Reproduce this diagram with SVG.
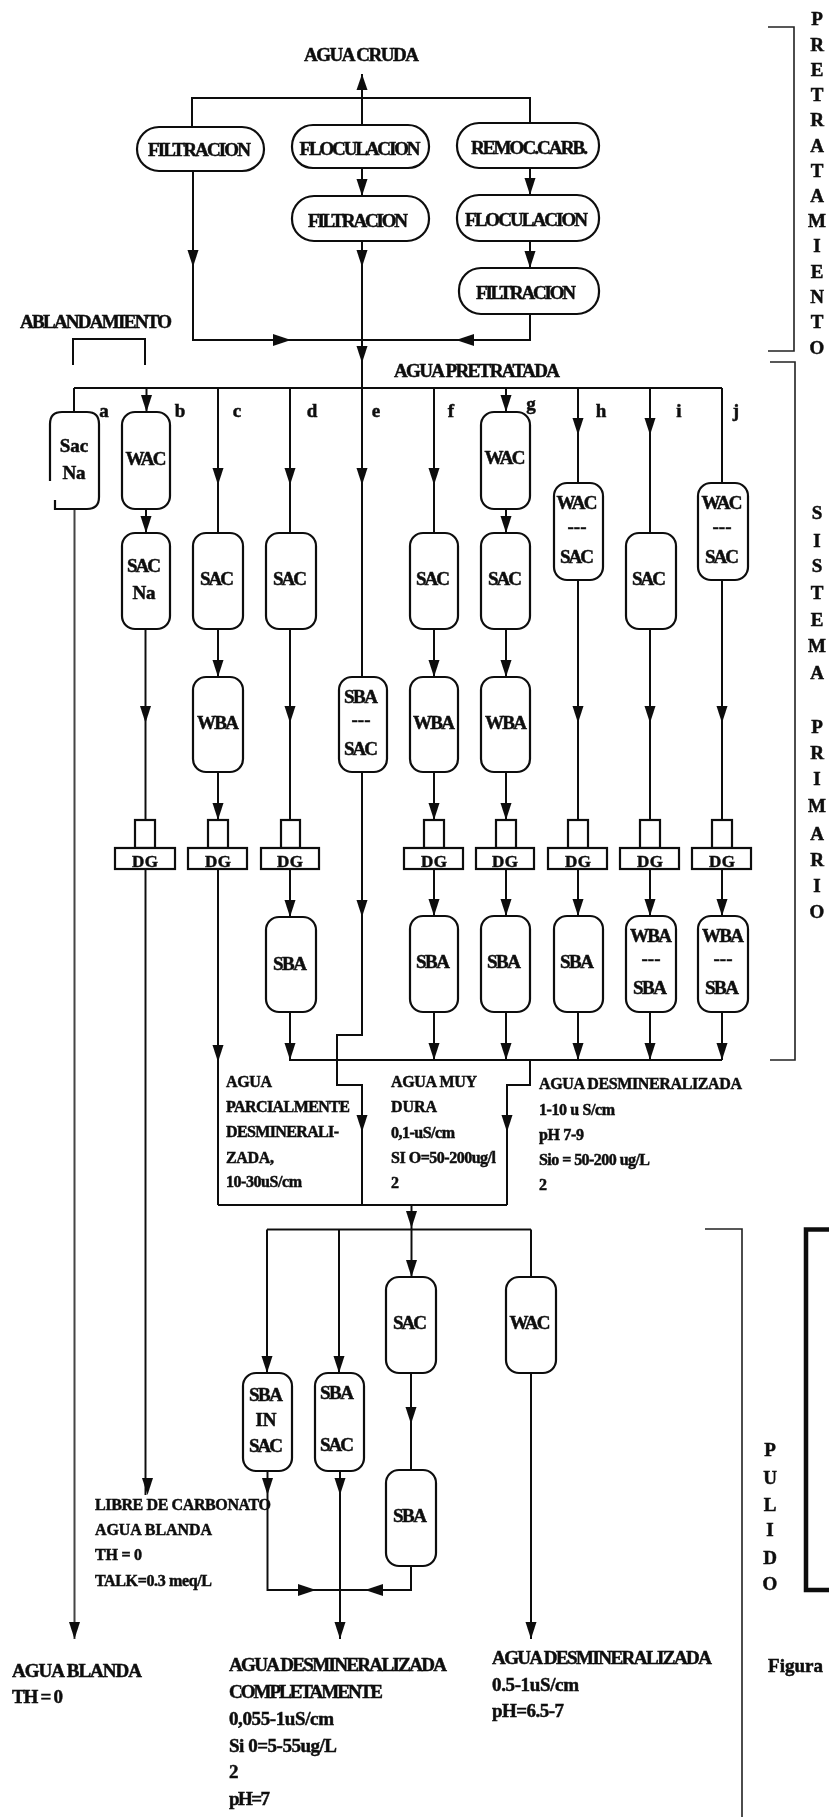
<svg xmlns="http://www.w3.org/2000/svg" width="829" height="1817" viewBox="0 0 829 1817">
<style>
text{font-family:"Liberation Serif","Times New Roman",serif;font-weight:bold;font-size:19px;fill:#111;stroke:#111;stroke-width:.5px}
.m{text-anchor:middle}
.s{font-size:16px}
.d{font-size:17px;text-anchor:middle}
.t{font-size:19px}
.l{font-size:19px;text-anchor:middle}
.n{fill:#fff;stroke:#111;stroke-width:2.2}
.w{fill:none;stroke:#111;stroke-width:2}
.g{fill:none;stroke:#444;stroke-width:2}
.b{fill:none;stroke:#222;stroke-width:1.6}
.k{fill:none;stroke:#111;stroke-width:4.5}
.a{fill:#111;stroke:none}
</style>
<defs>
<filter id="soft" x="0" y="0" width="100%" height="100%"><feGaussianBlur stdDeviation="0.55"/></filter>
<polygon id="ad" class="a" points="-5.500,-17 5.500,-17 0,0"/>
<polygon id="au" class="a" points="-5.500,16 5.500,16 0,0"/>
<polygon id="ar" class="a" points="-18,-6 0,0 -18,6"/>
<polygon id="al" class="a" points="18,-6 0,0 18,6"/>
</defs>
<rect width="829" height="1817" fill="#fff"/>
<g filter="url(#soft)">
<g id="connectors">
<path class="w" d="M362,74V125M192,127V98H530V123M362,168V196M530,168V195M530,241V268M193,171V340H530V314M362,241V388"/>
<path class="w" d="M73,365V339H145V365"/>
<path class="w" d="M74,388H722M74,388V412M146.500,388V412M218,388V533M290,388V533M362,388V677M434,388V533M506,388V412M578,388V483M650,388V533M722,388V483"/>
<path class="w" d="M146,509V533M506,509V533M218,629V677M434,629V677M506,629V677"/>
<path class="w" d="M145.500,629V820M145.500,869V1495M218,772V820M218,869V1205M290,629V820M290,869V917M434,772V820M434,869V916M506,772V820M506,869V916M578,580V820M578,869V916M650,629V820M650,869V916M722,580V820M722,869V916"/>
<path class="g" d="M74.500,509V1639"/>
<path class="w" d="M290,1012V1060H722M434,1012V1060M506,1012V1060M578,1012V1060M650,1012V1060M722,1012V1060"/>
<path class="w" d="M362,772V1035H337V1085H362V1205M530,1060V1085H507V1205M218,1205H507M411.500,1205V1277M267,1229.500H531M267,1229.500V1373M339,1229.500V1373M531,1229.500V1277M411,1373V1470M267.500,1471V1590H411V1566M340,1471V1639M531,1373V1639"/>
<use href="#au" x="362" y="74"/>
<use href="#ad" x="362" y="196"/><use href="#ad" x="530" y="195"/><use href="#ad" x="530" y="268"/>
<use href="#ad" x="193" y="267"/><use href="#ad" x="362" y="267"/><use href="#ad" x="362" y="363"/>
<use href="#ar" x="291" y="340"/><use href="#al" x="456" y="340"/>
<use href="#ad" x="146.500" y="412"/><use href="#ad" x="506" y="412"/>
<use href="#ad" x="146" y="533"/><use href="#ad" x="506" y="533"/>
<use href="#ad" x="218" y="485"/><use href="#ad" x="290" y="485"/><use href="#ad" x="362" y="485"/><use href="#ad" x="434" y="485"/>
<use href="#ad" x="578" y="435"/><use href="#ad" x="650" y="435"/>
<use href="#ad" x="218" y="677"/><use href="#ad" x="434" y="677"/><use href="#ad" x="506" y="677"/>
<use href="#ad" x="145.500" y="723"/><use href="#ad" x="290" y="723"/><use href="#ad" x="578" y="723"/><use href="#ad" x="650" y="723"/><use href="#ad" x="722" y="723"/>
<use href="#ad" x="218" y="820"/><use href="#ad" x="434" y="820"/><use href="#ad" x="506" y="820"/>
<use href="#ad" x="290" y="917"/><use href="#ad" x="362" y="917"/><use href="#ad" x="434" y="916"/><use href="#ad" x="506" y="916"/><use href="#ad" x="578" y="916"/><use href="#ad" x="650" y="916"/><use href="#ad" x="722" y="916"/>
<use href="#ad" x="218" y="1062"/>
<use href="#ad" x="290" y="1060"/><use href="#ad" x="434" y="1060"/><use href="#ad" x="506" y="1060"/><use href="#ad" x="578" y="1060"/><use href="#ad" x="650" y="1060"/><use href="#ad" x="722" y="1060"/>
<use href="#ad" x="362" y="1132"/><use href="#ad" x="507" y="1132"/>
<use href="#ad" x="411.500" y="1228"/><use href="#ad" x="411.500" y="1277"/>
<use href="#ad" x="267" y="1373"/><use href="#ad" x="339" y="1373"/>
<use href="#ad" x="411" y="1424"/>
<use href="#ad" x="267.500" y="1495"/><use href="#ad" x="340" y="1495"/><use href="#ad" x="147.500" y="1495"/>
<use href="#ar" x="316" y="1590"/><use href="#al" x="365" y="1590"/>
<use href="#ad" x="74.500" y="1639"/><use href="#ad" x="340" y="1639"/><use href="#ad" x="531" y="1639"/>
<path class="b" d="M768,27H794V351H768M770,362H795V1060H770M705,1229H742V1817"/>
<path class="k" d="M829,1229.500H806V1590H829"/>
</g>

<g id="n-filtracion1"><rect class="n" x="137" y="127" width="127" height="44" rx="22"/><text class="t m" x="199.500" y="156" textLength="103">FILTRACION</text></g>
<g id="n-floculacion1"><rect class="n" x="292" y="125" width="137" height="43" rx="21"/><text class="t m" x="360" y="155" textLength="121">FLOCULACION</text></g>
<g id="n-remoc"><rect class="n" x="457" y="123" width="142" height="45" rx="22"/><text class="t m" x="529.500" y="154" textLength="117">REMOC.CARB.</text></g>
<g id="n-filtracion2"><rect class="n" x="292" y="196" width="137" height="45" rx="22"/><text class="t m" x="358" y="227" textLength="100">FILTRACION</text></g>
<g id="n-floculacion2"><rect class="n" x="457" y="195" width="142" height="46" rx="22"/><text class="t m" x="526.500" y="226" textLength="123">FLOCULACION</text></g>
<g id="n-filtracion3"><rect class="n" x="459" y="268" width="140" height="46" rx="22"/><text class="t m" x="526" y="299" textLength="100">FILTRACION</text></g>

<g id="n-a"><path class="n" d="M50,481V424Q50,412 62,412H87Q99,412 99,424V497Q99,509 87,509H55V500"/><text class="l" x="74" y="452">Sac</text><text class="l" x="74" y="479">Na</text></g>
<g id="n-b1"><rect class="n" x="122" y="412" width="48" height="97" rx="13"/><text class="l" x="146" y="465" textLength="41">WAC</text></g>
<g id="n-b2"><rect class="n" x="122" y="533" width="48" height="96" rx="13"/><text class="l" x="144" y="572" textLength="34">SAC</text><text class="l" x="144" y="599">Na</text></g>
<g id="n-c1"><rect class="n" x="193" y="533" width="50" height="96" rx="13"/><text class="l" x="217" y="585" textLength="34">SAC</text></g>
<g id="n-c2"><rect class="n" x="193" y="677" width="50" height="95" rx="13"/><text class="l" x="218" y="729" textLength="42">WBA</text></g>
<g id="n-d1"><rect class="n" x="266" y="533" width="50" height="96" rx="13"/><text class="l" x="290" y="585" textLength="34">SAC</text></g>
<g id="n-d2"><rect class="n" x="266" y="917" width="50" height="95" rx="13"/><text class="l" x="290" y="970" textLength="34">SBA</text></g>
<g id="n-e"><rect class="n" x="339" y="677" width="48" height="95" rx="13"/><text class="l" x="361" y="703" textLength="34">SBA</text><text class="l" x="361" y="726">---</text><text class="l" x="361" y="755" textLength="34">SAC</text></g>
<g id="n-f1"><rect class="n" x="410" y="533" width="48" height="96" rx="13"/><text class="l" x="433" y="585" textLength="34">SAC</text></g>
<g id="n-f2"><rect class="n" x="410" y="677" width="48" height="95" rx="13"/><text class="l" x="434" y="729" textLength="42">WBA</text></g>
<g id="n-f3"><rect class="n" x="410" y="916" width="48" height="96" rx="13"/><text class="l" x="433" y="968" textLength="34">SBA</text></g>
<g id="n-g1"><rect class="n" x="481" y="412" width="49" height="97" rx="13"/><text class="l" x="505" y="464" textLength="41">WAC</text></g>
<g id="n-g2"><rect class="n" x="481" y="533" width="49" height="96" rx="13"/><text class="l" x="505" y="585" textLength="34">SAC</text></g>
<g id="n-g3"><rect class="n" x="481" y="677" width="49" height="95" rx="13"/><text class="l" x="506" y="729" textLength="42">WBA</text></g>
<g id="n-g4"><rect class="n" x="481" y="916" width="49" height="96" rx="13"/><text class="l" x="504" y="968" textLength="34">SBA</text></g>
<g id="n-h1"><rect class="n" x="554" y="483" width="49" height="97" rx="13"/><text class="l" x="577" y="509" textLength="41">WAC</text><text class="l" x="577" y="533">---</text><text class="l" x="577" y="563" textLength="34">SAC</text></g>
<g id="n-h2"><rect class="n" x="554" y="916" width="49" height="96" rx="13"/><text class="l" x="577" y="968" textLength="34">SBA</text></g>
<g id="n-i1"><rect class="n" x="626" y="533" width="50" height="96" rx="13"/><text class="l" x="649" y="585" textLength="34">SAC</text></g>
<g id="n-i2"><rect class="n" x="626" y="916" width="50" height="96" rx="13"/><text class="l" x="651" y="942" textLength="42">WBA</text><text class="l" x="651" y="965">---</text><text class="l" x="650" y="994" textLength="34">SBA</text></g>
<g id="n-j1"><rect class="n" x="698" y="483" width="50" height="97" rx="13"/><text class="l" x="722" y="509" textLength="41">WAC</text><text class="l" x="722" y="533">---</text><text class="l" x="722" y="563" textLength="34">SAC</text></g>
<g id="n-j2"><rect class="n" x="698" y="916" width="50" height="96" rx="13"/><text class="l" x="723" y="942" textLength="42">WBA</text><text class="l" x="723" y="965">---</text><text class="l" x="722" y="994" textLength="34">SBA</text></g>

<g id="dg-b"><rect class="n" x="135" y="820" width="20" height="28"/><rect class="n" x="115" y="848" width="60" height="21"/><text class="d" x="145" y="867" textLength="26">DG</text></g>
<g id="dg-c"><rect class="n" x="208" y="820" width="20" height="28"/><rect class="n" x="188" y="848" width="59" height="21"/><text class="d" x="218" y="867" textLength="26">DG</text></g>
<g id="dg-d"><rect class="n" x="281" y="820" width="19" height="28"/><rect class="n" x="261" y="848" width="58" height="21"/><text class="d" x="290" y="867" textLength="26">DG</text></g>
<g id="dg-f"><rect class="n" x="424" y="820" width="20" height="28"/><rect class="n" x="404" y="848" width="59" height="21"/><text class="d" x="434" y="867" textLength="26">DG</text></g>
<g id="dg-g"><rect class="n" x="496" y="820" width="20" height="28"/><rect class="n" x="476" y="848" width="58" height="21"/><text class="d" x="505" y="867" textLength="26">DG</text></g>
<g id="dg-h"><rect class="n" x="568" y="820" width="20" height="28"/><rect class="n" x="548" y="848" width="59" height="21"/><text class="d" x="578" y="867" textLength="26">DG</text></g>
<g id="dg-i"><rect class="n" x="640" y="820" width="20" height="28"/><rect class="n" x="620" y="848" width="59" height="21"/><text class="d" x="650" y="867" textLength="26">DG</text></g>
<g id="dg-j"><rect class="n" x="712" y="820" width="20" height="28"/><rect class="n" x="692" y="848" width="59" height="21"/><text class="d" x="722" y="867" textLength="26">DG</text></g>

<g id="n-p-sac"><rect class="n" x="386" y="1277" width="50" height="96" rx="13"/><text class="l" x="410" y="1329" textLength="34">SAC</text></g>
<g id="n-p-wac"><rect class="n" x="506" y="1277" width="50" height="96" rx="13"/><text class="l" x="530" y="1329" textLength="41">WAC</text></g>
<g id="n-p-sbainsac"><rect class="n" x="243" y="1373" width="49" height="98" rx="13"/><text class="l" x="266" y="1401" textLength="34">SBA</text><text class="l" x="266" y="1426">IN</text><text class="l" x="266" y="1452" textLength="34">SAC</text></g>
<g id="n-p-sbasac"><rect class="n" x="315" y="1373" width="49" height="98" rx="13"/><text class="l" x="337" y="1399" textLength="34">SBA</text><text class="l" x="337" y="1451" textLength="34">SAC</text></g>
<g id="n-p-sba"><rect class="n" x="386" y="1470" width="50" height="96" rx="13"/><text class="l" x="410" y="1522" textLength="34">SBA</text></g>

<g id="labels">
<text class="t" x="304" y="61" textLength="115">AGUA CRUDA</text>
<text class="t" x="20" y="328" textLength="152">ABLANDAMIENTO</text>
<text class="t" x="394" y="377" textLength="166">AGUA PRETRATADA</text>
<text class="m" x="104" y="417">a</text><text class="m" x="180" y="417">b</text><text class="m" x="237" y="417">c</text><text class="m" x="312" y="417">d</text><text class="m" x="376" y="417">e</text><text class="m" x="451" y="417">f</text><text class="m" x="531" y="410">g</text><text class="m" x="601" y="417">h</text><text class="m" x="679" y="417">i</text><text class="m" x="736" y="417">j</text>

<text class="s" x="226" y="1087" textLength="46">AGUA</text>
<text class="s" x="226" y="1112" textLength="124">PARCIALMENTE</text>
<text class="s" x="226" y="1137" textLength="113">DESMINERALI-</text>
<text class="s" x="226" y="1163" textLength="48">ZADA,</text>
<text class="s" x="226" y="1187" textLength="76">10-30uS/cm</text>
<text class="s" x="391" y="1087" textLength="86">AGUA MUY</text>
<text class="s" x="391" y="1112" textLength="46">DURA</text>
<text class="s" x="391" y="1138" textLength="64">0,1-uS/cm</text>
<text class="s" x="391" y="1163" textLength="105">SI O=50-200ug/l</text>
<text class="s" x="391" y="1188">2</text>
<text class="s" x="539" y="1089" textLength="203">AGUA DESMINERALIZADA</text>
<text class="s" x="539" y="1115" textLength="76">1-10 u S/cm</text>
<text class="s" x="539" y="1140" textLength="45">pH 7-9</text>
<text class="s" x="539" y="1165" textLength="111">Sio = 50-200 ug/L</text>
<text class="s" x="539" y="1190">2</text>

<text class="s" x="95" y="1510" textLength="176">LIBRE DE CARBONATO</text>
<text class="s" x="95" y="1535" textLength="117">AGUA BLANDA</text>
<text class="s" x="95" y="1560" textLength="47">TH = 0</text>
<text class="s" x="95" y="1586" textLength="117">TALK=0.3 meq/L</text>
<text class="t" x="12" y="1677" textLength="130">AGUA BLANDA</text>
<text class="t" x="12" y="1703" textLength="51">TH = 0</text>
<text class="t" x="229" y="1671" textLength="218">AGUA DESMINERALIZADA</text>
<text class="t" x="229" y="1698" textLength="154">COMPLETAMENTE</text>
<text class="t" x="229" y="1725" textLength="105">0,055-1uS/cm</text>
<text class="t" x="229" y="1752" textLength="108">Si 0=5-55ug/L</text>
<text class="t" x="229" y="1778">2</text>
<text class="t" x="229" y="1805" textLength="41">pH=7</text>
<text class="t" x="492" y="1664" textLength="220">AGUA DESMINERALIZADA</text>
<text class="t" x="492" y="1691" textLength="87">0.5-1uS/cm</text>
<text class="t" x="492" y="1717" textLength="72">pH=6.5-7</text>
<text class="t" x="768" y="1672" textLength="55">Figura</text>

<text class="m" x="817" y="25">P</text><text class="m" x="817" y="51">R</text><text class="m" x="817" y="76">E</text><text class="m" x="817" y="101">T</text><text class="m" x="817" y="126">R</text><text class="m" x="817" y="152">A</text><text class="m" x="817" y="177">T</text><text class="m" x="817" y="202">A</text><text class="m" x="817" y="227">M</text><text class="m" x="817" y="252">I</text><text class="m" x="817" y="278">E</text><text class="m" x="817" y="303">N</text><text class="m" x="817" y="328">T</text><text class="m" x="817" y="354">O</text>
<text class="m" x="817" y="519">S</text><text class="m" x="817" y="547">I</text><text class="m" x="817" y="572">S</text><text class="m" x="817" y="599">T</text><text class="m" x="817" y="626">E</text><text class="m" x="817" y="652">M</text><text class="m" x="817" y="679">A</text><text class="m" x="817" y="733">P</text><text class="m" x="817" y="759">R</text><text class="m" x="817" y="785">I</text><text class="m" x="817" y="812">M</text><text class="m" x="817" y="840">A</text><text class="m" x="817" y="866">R</text><text class="m" x="817" y="892">I</text><text class="m" x="817" y="918">O</text>
<text class="m" x="770" y="1456">P</text><text class="m" x="770" y="1484">U</text><text class="m" x="770" y="1511">L</text><text class="m" x="770" y="1536">I</text><text class="m" x="770" y="1564">D</text><text class="m" x="770" y="1590">O</text>
</g>
</g>
</svg>
